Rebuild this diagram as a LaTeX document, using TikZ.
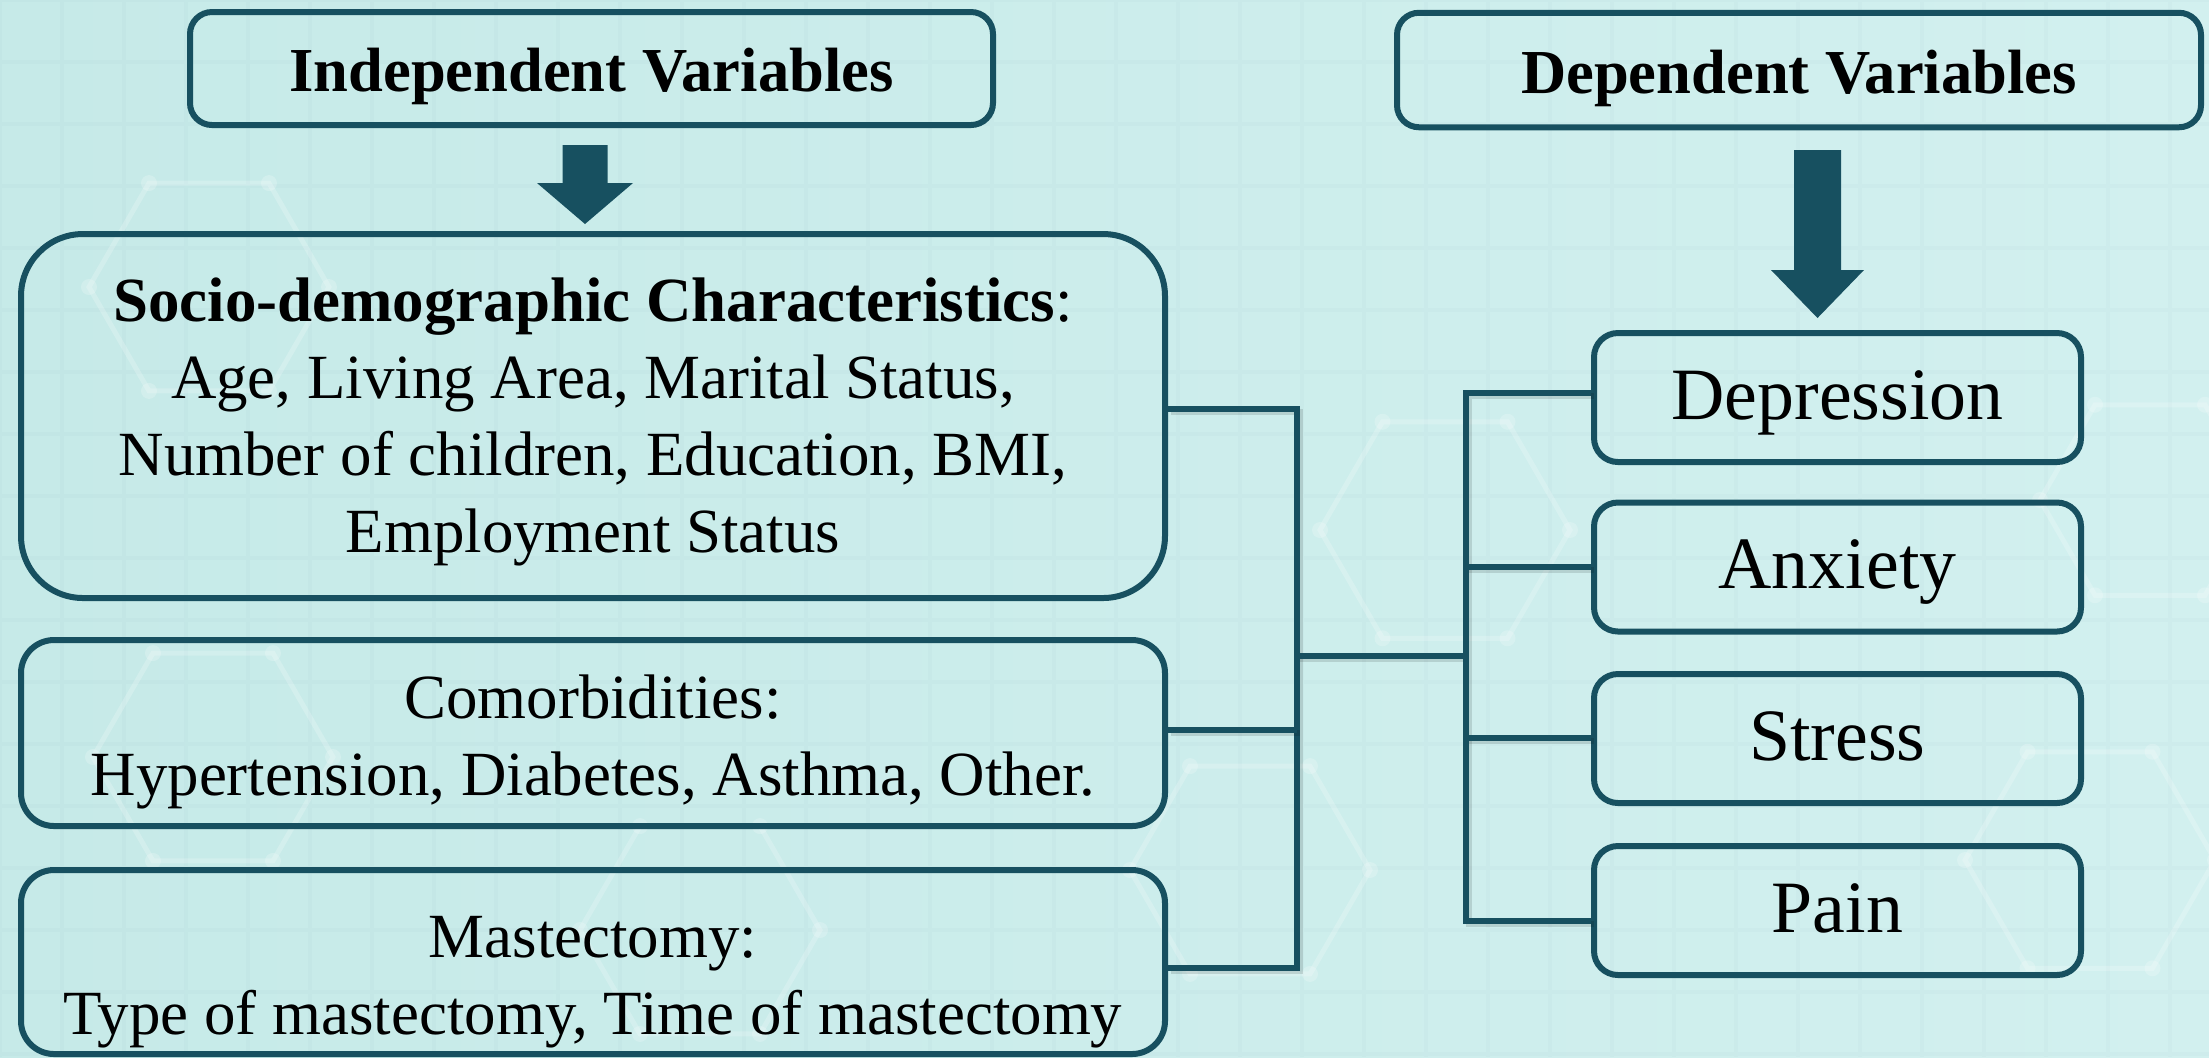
\documentclass[tikz,border=0pt]{standalone}
\usepackage{fontspec}
\setmainfont{Liberation Serif}
\usetikzlibrary{calc}
\definecolor{tealdk}{RGB}{23,80,96}
\definecolor{bgL}{RGB}{198,234,232}
\definecolor{bgM}{RGB}{224,246,246}
\definecolor{bgR}{RGB}{210,240,239}
\newcommand\mlines[1]{\begin{tabular}[b]{@{}c@{}}#1\end{tabular}}
\tikzset{
  box/.style={draw=tealdk, line width=0.6mm, inner sep=0pt, text=black, align=center},
  headbox/.style={box, rounded corners=2.2mm, minimum width=80.3mm, minimum height=11.3mm,
     font=\bfseries\fontsize{17.8}{21.9}\selectfont, text height=4.6mm, text depth=0pt},
  leftbox/.style={box, minimum width=114.4mm, font=\fontsize{17.9}{21.9}\selectfont, text depth=0pt},
  rightbox/.style={box, rounded corners=2.4mm, minimum width=48.7mm, minimum height=12.9mm,
     font=\fontsize{21}{25}\selectfont, text height=4.3mm, text depth=0pt},
  conn/.style={draw=tealdk, line width=0.6mm,
     preaction={draw=black, opacity=0.12, line width=0.6mm, transform canvas={xshift=0.25mm,yshift=-0.3mm}}},
  blockarrow/.style={fill=tealdk},
  gridline/.style={draw=tealdk, opacity=0.02, line width=0.45mm},
  hexline/.style={draw=white, opacity=0.2, line width=0.5mm},
}
\begin{document}
\begin{tikzpicture}[x=0.1mm, y=-0.1mm]
\useasboundingbox (0,0) rectangle (2209,1057);
% background
\shade[left color=bgL, middle color=bgM, right color=bgR] (0,0) rectangle (2209,1057);
\draw[gridline, step=6.2mm] (0,0) grid (2209,1057);
% faint molecular hexagons
\foreach \cx/\cy/\r in {209/287/120, 213/757/120, 1445/530/125, 1250/870/120, 2090/860/125, 2150/500/110, 700/930/120}{
  \draw[hexline] (\cx+\r,\cy) -- (\cx+0.5*\r,\cy-0.866*\r) -- (\cx-0.5*\r,\cy-0.866*\r)
     -- (\cx-\r,\cy) -- (\cx-0.5*\r,\cy+0.866*\r) -- (\cx+0.5*\r,\cy+0.866*\r) -- cycle;
  \foreach \a in {0,60,...,300}{
    \fill[white, opacity=0.2] (\cx+\r*cos \a, \cy+\r*sin \a) circle (0.8mm);
  }
}
% header boxes
\node[headbox] (iv) at (591.5,68.5) {Independent Variables};
\node[headbox, minimum width=80.4mm, minimum height=11.45mm] (dv) at (1799,70) {Dependent Variables};
% left boxes
\node[leftbox, rounded corners=6.2mm, minimum height=36.4mm, text height=27.2mm] (socio) at (593,416)
  {\mlines{\textbf{Socio-demographic Characteristics}:\\ Age, Living Area, Marital Status,\\ Number of children, Education, BMI,\\ Employment Status}};
\node[leftbox, rounded corners=3.3mm, minimum height=18.6mm, text height=12.5mm] (comorb) at (593,733)
  {\mlines{Comorbidities:\\ Hypertension, Diabetes, Asthma, Other.}};
\node[leftbox, rounded corners=3.3mm, minimum height=18.4mm, text height=14.4mm] (mast) at (593,962)
  {\mlines{Mastectomy:\\ Type of mastectomy, Time of mastectomy}};
% right boxes
\node[rightbox] (dep) at (1837.5,397.5) {Depression};
\node[rightbox] (anx) at (1837.5,567) {Anxiety};
\node[rightbox] (str) at (1837.5,738.5) {Stress};
\node[rightbox] (pain) at (1837.5,910.5) {Pain};
% block arrows
\coordinate (ivA) at (585,145);
\coordinate (ivT) at (585,224);
\fill[blockarrow] ($(ivA)+(-22.5,0)$) -- ($(ivA)+(22.5,0)$) -- ($(ivA)+(22.5,38)$) -- ($(ivA)+(48,38)$)
   -- (ivT) -- ($(ivA)+(-48,38)$) -- ($(ivA)+(-22.5,38)$) -- cycle;
\coordinate (dvA) at (1817.5,150);
\coordinate (dvT) at (1817.5,318);
\fill[blockarrow] ($(dvA)+(-23.5,0)$) -- ($(dvA)+(23.5,0)$) -- ($(dvA)+(23.5,120)$) -- ($(dvA)+(46.5,120)$)
   -- (dvT) -- ($(dvA)+(-46.5,120)$) -- ($(dvA)+(-23.5,120)$) -- cycle;
% connector junctions
\coordinate (Lt) at (1297,409);
\coordinate (Lc) at (1297,730);
\coordinate (Lb) at (1297,968);
\coordinate (Lm) at (1297,656);
\coordinate (Rm) at (1466,656);
\coordinate (Rd) at (1466,393);
\coordinate (Ra) at (1466,567);
\coordinate (Rs) at (1466,738);
\coordinate (Rp) at (1466,921);
\draw[conn] (socio.east |- Lt) -- (Lt) -- (Lb) -- (mast.east |- Lb);
\draw[conn] (comorb.east |- Lc) -- (Lc);
\draw[conn] (Lm) -- (Rm);
\draw[conn] (dep.west |- Rd) -- (Rd) -- (Rp) -- (pain.west |- Rp);
\draw[conn] (Ra) -- (anx.west |- Ra);
\draw[conn] (Rs) -- (str.west |- Rs);
\end{tikzpicture}
\end{document}
